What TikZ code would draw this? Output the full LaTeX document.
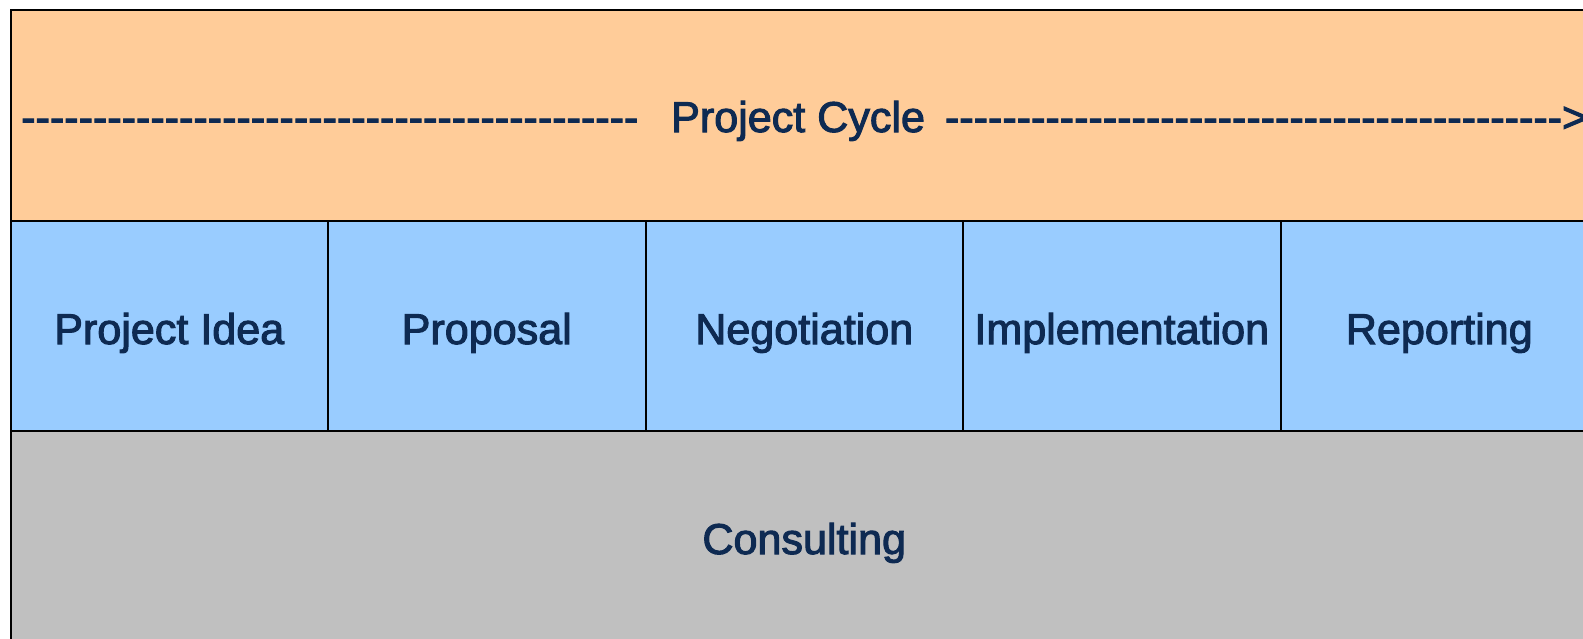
\documentclass[tikz,border=0pt]{standalone}
\usepackage{fontspec}
\setmainfont{Liberation Sans}
\newfontfamily\lblfont{Liberation Sans}[FakeBold=2.4]
\definecolor{txt}{RGB}{14,42,82}
\definecolor{topfill}{RGB}{255,204,153}
\definecolor{midfill}{RGB}{153,204,255}
\definecolor{botfill}{RGB}{192,192,192}
\newcommand\dashrun[1]{\foreach \i in {1,...,#1}{-}}
\tikzset{
  band/.style={draw=black, line width=1pt, anchor=north west, inner sep=0pt, outer sep=0pt},
  cell/.style={band, fill=midfill, minimum width=158.75pt, minimum height=105.25pt},
  wide/.style={band, minimum width=793.75pt, minimum height=105.25pt},
  lbl/.style={text=txt, inner sep=0pt, anchor=base, font=\lblfont\fontsize{21.55}{26}\selectfont}
}
\begin{document}
\begin{tikzpicture}[x=0.5pt,y=-0.5pt]
\useasboundingbox (0,0) rectangle (1583,638);
\clip (0,0) rectangle (1583,638);
\node[wide, fill=topfill] (cyclebox) at (10.5,10) {};
\node[cell] (c1) at (10.5,220.5) {};
\node[cell] (c2) at (328,220.5) {};
\node[cell] (c3) at (645.5,220.5) {};
\node[cell] (c4) at (963,220.5) {};
\node[cell] (c5) at (1280.5,220.5) {};
\node[wide, fill=botfill] (cons) at (10.5,431) {};
\node[lbl, anchor=base west] (cyclet) at (20.8,132) {\dashrun{43}\hspace{16.4pt}Project Cycle\hspace{10pt}\dashrun{43}>};
\node[lbl] (t1) at (169.25,344) {Project Idea};
\node[lbl] (t2) at (486.75,344) {Proposal};
\node[lbl] (t3) at (804.25,344) {Negotiation};
\node[lbl] (t4) at (1121.75,344) {Implementation};
\node[lbl] (t5) at (1439.25,344) {Reporting};
\node[lbl] (t6) at (804.25,554) {Consulting};
\end{tikzpicture}
\end{document}
